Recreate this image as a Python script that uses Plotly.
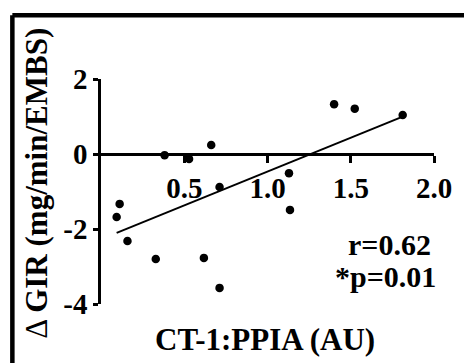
import numpy as np
import plotly.graph_objects as go

# Data
ct1_ppia = [0.094, 0.112, 0.159, 0.329, 0.382, 0.529, 0.618, 0.662, 0.712, 0.712,
            1.129, 1.135, 1.400, 1.524, 1.812]
delta_gir = [-1.68, -1.33, -2.32, -2.80, -0.03, -0.13, -2.77, 0.24, -3.57, -0.88,
             -0.51, -1.49, 1.33, 1.21, 1.04]
x_ticks = [0.5, 1.0, 1.5, 2.0]
x_tick_text = ["0.5", "1.0", "1.5", "2.0"]
y_ticks = [2, 0, -2, -4]
y_tick_text = ["2", "0", "-2", "-4"]
stats_r = "r=0.62"
stats_p = "*p=0.01"

FONT = "Liberation Serif, Times New Roman, serif"

x = np.array(ct1_ppia)
y = np.array(delta_gir)
slope, intercept = np.polyfit(x, y, 1)
fit_x = np.array([x.min(), x.max()])
fit_y = slope * fit_x + intercept

fig = go.Figure()
fig.add_trace(go.Scatter(x=fit_x, y=fit_y, mode="lines",
                         line=dict(color="black", width=2), hoverinfo="skip"))
fig.add_trace(go.Scatter(x=ct1_ppia, y=delta_gir, mode="markers",
                         marker=dict(color="black", size=8.5)))

fig.update_layout(
    width=464, height=363,
    margin=dict(l=101, r=23, t=79, b=59),
    paper_bgcolor="white", plot_bgcolor="white",
    showlegend=False,
    xaxis=dict(range=[0, 2], tickvals=x_ticks, ticktext=x_tick_text,
               showgrid=False, zeroline=False, showline=True, linecolor="black",
               linewidth=2.5, ticks="outside", ticklen=7, tickwidth=2.5,
               tickcolor="black", anchor="free", position=4 / 6,
               tickfont=dict(family=FONT, size=29, color="black", weight="bold")),
    yaxis=dict(range=[-4, 2], tickvals=y_ticks, ticktext=y_tick_text,
               domain=[0, 1],
               showgrid=False, zeroline=False, showline=True, linecolor="black",
               linewidth=2.5, ticks="outside", ticklen=5, tickwidth=2.5,
               tickcolor="black",
               tickfont=dict(family=FONT, size=29, color="black", weight="bold")),
)

fig.add_annotation(text="CT-1:PPIA (AU)", xref="paper", yref="paper",
                   x=0.491, y=-0.1556, xanchor="center", yanchor="middle",
                   showarrow=False,
                   font=dict(family=FONT, size=31, color="black", weight="bold"))
fig.add_annotation(text="Δ <b>GIR (mg/min/EMBS)</b>", xref="paper", yref="paper",
                   x=-0.194, y=0.536, xanchor="center", yanchor="middle",
                   textangle=-90, showarrow=False,
                   font=dict(family=FONT, size=31, color="black"))
fig.add_annotation(text=stats_r, xref="paper", yref="paper", x=0.997, y=0.2644,
                   xanchor="right", yanchor="middle", showarrow=False,
                   font=dict(family=FONT, size=30, color="black", weight="bold"))
fig.add_annotation(text=stats_p, xref="paper", yref="paper", x=1.0118, y=0.1227,
                   xanchor="right", yanchor="middle", showarrow=False,
                   font=dict(family=FONT, size=30, color="black", weight="bold"))

# Frame (top and left edges, as in the reference crop)
px_w, px_h = 340, 225
fx = (10.5 - 101) / px_w
fy = (304 - 15.3) / px_h
fig.add_shape(type="line", xref="paper", yref="paper", x0=fx, y0=fy, x1=1.2, y1=fy,
              line=dict(color="black", width=4.5))
fig.add_shape(type="line", xref="paper", yref="paper", x0=fx, y0=fy, x1=fx, y1=-0.5,
              line=dict(color="black", width=4.5))

fig.write_html("out.html")
